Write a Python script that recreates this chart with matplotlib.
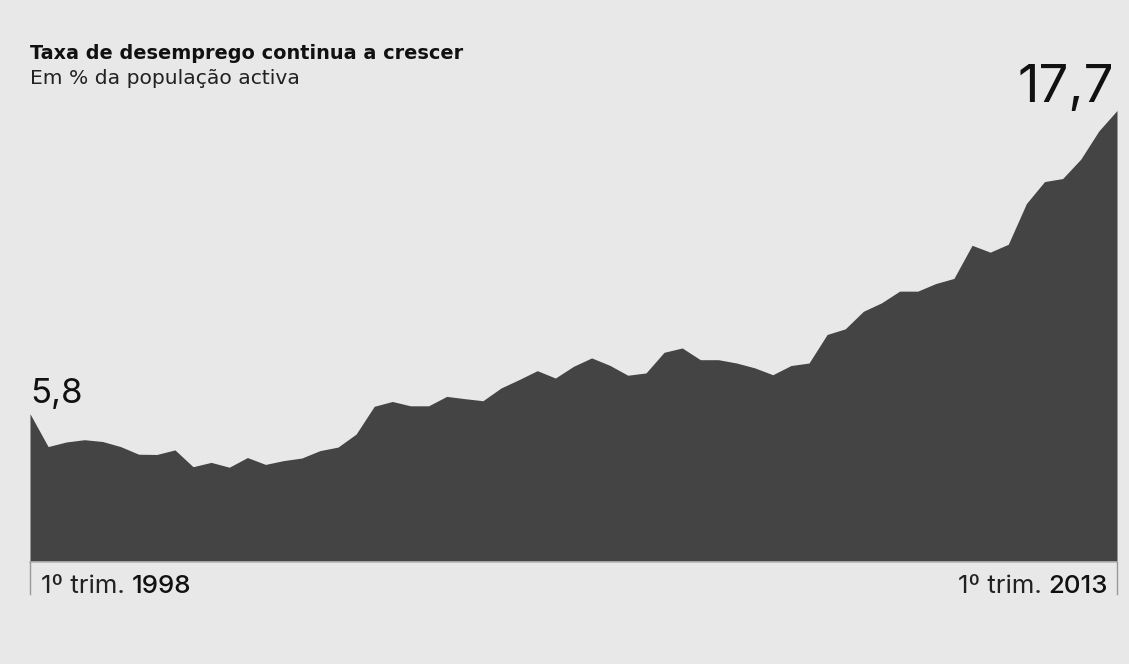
import matplotlib
matplotlib.use("Agg")
import matplotlib.pyplot as plt
import matplotlib.transforms as mtransforms

# Quarterly unemployment rate, Portugal, 1st quarter 1998 .. 1st quarter 2013 (%)
quarters = list(range(61))
rate = [5.8, 4.51, 4.69, 4.78, 4.71, 4.51, 4.21, 4.20, 4.38, 3.72,
        3.89, 3.70, 4.08, 3.81, 3.96, 4.06, 4.35, 4.49, 5.00, 6.09,
        6.28, 6.11, 6.11, 6.48, 6.39, 6.31, 6.81, 7.14, 7.49, 7.20,
        7.66, 7.99, 7.70, 7.31, 7.40, 8.21, 8.38, 7.92, 7.92, 7.79,
        7.60, 7.33, 7.69, 7.79, 8.91, 9.13, 9.82, 10.15, 10.61, 10.61,
        10.91, 11.11, 12.41, 12.14, 12.45, 14.05, 14.91, 15.03, 15.79, 16.90,
        17.7]
first_label = "5,8"
last_label = "17,7"
start_tick = ("1º trim. ", "1998")
end_tick = ("1º trim. ", "2013")
title = "Taxa de desemprego continua a crescer"
subtitle = "Em % da população activa"

W, H = 1129, 664
bg = "#e8e8e8"
fam = ["Inter", "DejaVu Sans"]
wide = ["DejaVu Sans"]

fig = plt.figure(figsize=(W / 100, H / 100), dpi=100, facecolor=bg)

def fx(px):
    return px / W

def fy(py):
    return 1 - py / H

left, right, base, top = 30, 1117, 561.5, 110.5
ax = fig.add_axes([fx(left), fy(base), fx(right - left), (base - top) / H])
ax.set_facecolor(bg)
ax.fill_between(quarters, rate, 0, color="#444444", linewidth=0)
ax.set_xlim(quarters[0], quarters[-1])
ax.set_ylim(0, max(rate))
for s in ax.spines.values():
    s.set_visible(False)
ax.set_xticks([])
ax.set_yticks([])

# baseline and end ticks
ax.axhline(0, color="#b5b5b5", linewidth=1.2, clip_on=False)
trans = mtransforms.blended_transform_factory(ax.transData, ax.transAxes)
tick_len = 32 / (base - top)
for q in (quarters[0], quarters[-1]):
    ax.plot([q, q], [0, -tick_len], transform=trans, color="#999999",
            linewidth=1.0, clip_on=False)

# titles
fig.text(fx(30), fy(59), title, fontsize=13.9, fontweight="bold",
         family=wide, color="#111111", va="baseline", ha="left")
fig.text(fx(30), fy(84.5), subtitle, fontsize=14.6, family=wide,
         color="#222222", va="baseline", ha="left")

# value labels
fig.text(fx(30), fy(403), first_label, fontsize=25, family=fam,
         color="#111111", va="baseline", ha="left")
fig.text(fx(1114), fy(102), last_label, fontsize=38, family=fam,
         color="#111111", va="baseline", ha="right")

# end tick labels
tsize = 18.6
t1 = fig.text(fx(41), fy(593), start_tick[0], fontsize=tsize, family=fam,
              color="#222222", va="baseline", ha="left")
fig.canvas.draw()
bb = t1.get_window_extent()
fig.text(bb.x1 / W, fy(593), start_tick[1], fontsize=tsize, family=fam,
         fontweight="medium", color="#111111", va="baseline", ha="left")

t2 = fig.text(fx(1108), fy(593), end_tick[1], fontsize=tsize, family=fam,
              fontweight="medium", color="#111111", va="baseline", ha="right")
fig.canvas.draw()
bb2 = t2.get_window_extent()
fig.text(bb2.x0 / W, fy(593), end_tick[0], fontsize=tsize, family=fam,
         color="#222222", va="baseline", ha="right")

fig.savefig("out.png", dpi=100, facecolor=bg)
